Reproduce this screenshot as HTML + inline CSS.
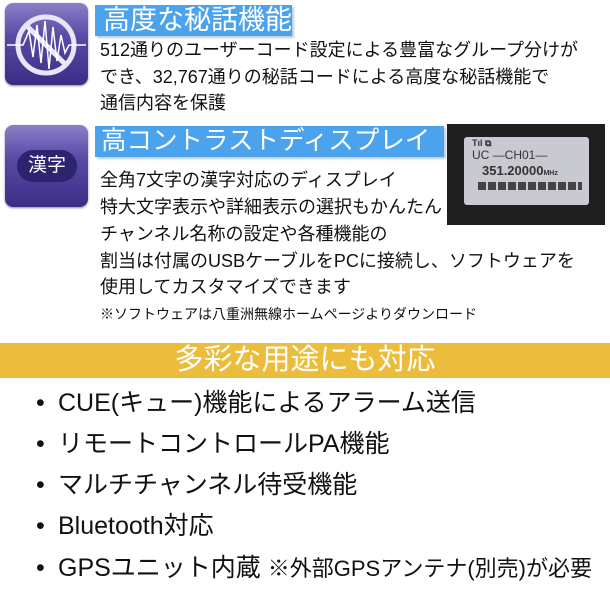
<!DOCTYPE html>
<html><head><meta charset="utf-8"><style>
body{margin:0;width:610px;height:610px;background:#fff;position:relative;overflow:hidden;font-family:"Liberation Sans","Noto Sans CJK JP",sans-serif;color:#111}
.a{position:absolute;white-space:nowrap}
.ic{position:absolute;border-radius:8px;background:linear-gradient(#8a80c8,#5a4aa6 40%,#3b2d86);box-shadow:0 1px 2px #888}
.tt{position:absolute;background:#4aa3ec;color:#fff;font-size:27px;line-height:31px;padding-left:8px;box-shadow:2px 2px 2px #bcd;overflow:visible;white-space:nowrap}
.b{position:absolute;left:100px;font-size:18px;line-height:20px;white-space:nowrap}
.li{position:absolute;left:36px;font-size:25px;line-height:28px;white-space:nowrap}
.li span{display:inline-block;width:22px}
</style></head><body>
<div class="ic" style="left:5px;top:3px;width:83px;height:82px">
<svg width="83" height="82"><circle cx="41" cy="42" r="28" fill="none" stroke="#e8e6f6" stroke-width="5"/><line x1="21" y1="22" x2="61" y2="62" stroke="#e8e6f6" stroke-width="5"/><polyline points="2,42 18,42 24,28 28,54 32,22 36,60 40,18 44,66 48,24 52,58 56,32 60,50 64,42 81,42" fill="none" stroke="#fff" stroke-width="1.5"/></svg></div>
<div class="tt" style="left:95px;top:5px;width:189px;height:31px">高度な秘話機能</div>
<div class="b" style="top:40px">512通りのユーザーコード設定による豊富なグループ分けが</div>
<div class="b" style="top:67px">でき、32,767通りの秘話コードによる高度な秘話機能で</div>
<div class="b" style="top:93px">通信内容を保護</div>
<div class="ic" style="left:5px;top:125px;width:83px;height:82px">
<div style="position:absolute;left:12px;top:25px;width:60px;height:32px;border-radius:16px;background:#2d2470;color:#fff;font-size:19px;line-height:32px;text-align:center">漢字</div></div>
<div class="tt" style="left:95px;top:126px;width:343px;height:31px;font-size:25.5px;padding-left:6px">高コントラストディスプレイ</div>
<div class="a" style="left:447px;top:124px;width:158px;height:101px;background:#1e1e1e">
<div style="position:absolute;left:17px;top:13px;width:125px;height:68px;background:#c9c9d2;border-radius:3px;color:#333;font-family:'Liberation Sans',sans-serif">
<div class="a" style="left:8px;top:1px;font-size:9px;font-weight:bold">Tıl ⧉</div>
<div class="a" style="left:8px;top:11px;font-size:12px">UC —CH01—</div>
<div class="a" style="left:18px;top:26px;font-size:13px;font-weight:bold">351.20000<span style="font-size:7px">MHz</span></div>
<div class="a" style="left:14px;top:45px;width:104px;height:8px;background:repeating-linear-gradient(90deg,#444 0 8px,#c9c9d2 8px 10px)"></div>
</div></div>
<div class="b" style="top:170px">全角7文字の漢字対応のディスプレイ</div>
<div class="b" style="top:197px">特大文字表示や詳細表示の選択もかんたん</div>
<div class="b" style="top:224px">チャンネル名称の設定や各種機能の</div>
<div class="b" style="top:251px">割当は付属のUSBケーブルをPCに接続し、ソフトウェアを</div>
<div class="b" style="top:277px">使用してカスタマイズできます</div>
<div class="b" style="top:304px;font-size:14px">※ソフトウェアは八重洲無線ホームページよりダウンロード</div>
<div class="a" style="left:0;top:343px;width:610px;height:35px;background:#ecbd3c;color:#fff;font-size:29px;line-height:35px;text-align:center">多彩な用途にも対応</div>
<div class="li" style="top:389px"><span>•</span>CUE(キュー)機能によるアラーム送信</div>
<div class="li" style="top:430px"><span>•</span>リモートコントロールPA機能</div>
<div class="li" style="top:471px"><span>•</span>マルチチャンネル待受機能</div>
<div class="li" style="top:512px"><span>•</span>Bluetooth対応</div>
<div class="li" style="top:554px"><span>•</span>GPSユニット内蔵 <span style="width:auto;font-size:22px">※外部GPSアンテナ(別売)が必要</span></div>
</body></html>
